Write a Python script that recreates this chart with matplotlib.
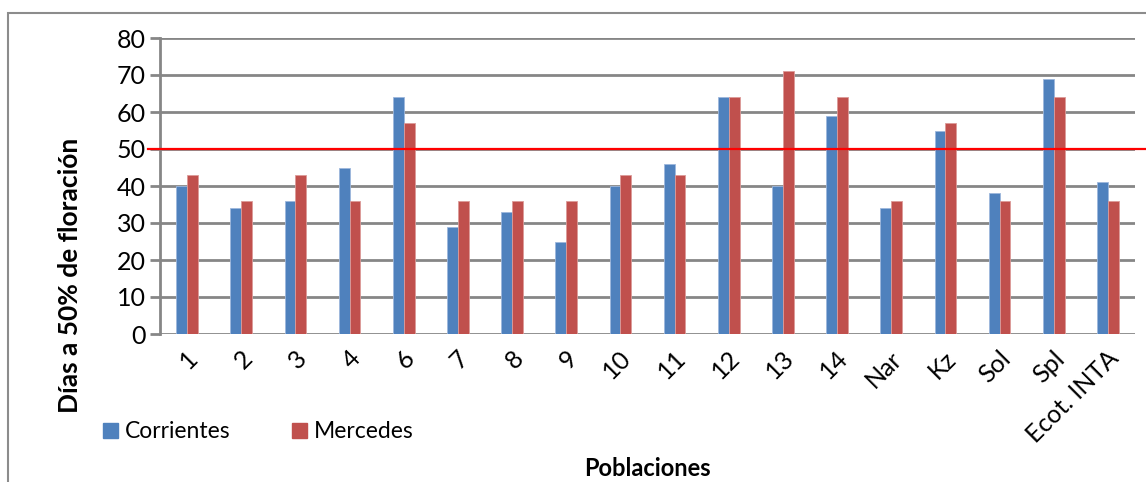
import matplotlib.pyplot as plt
import matplotlib.transforms as mtransforms
import numpy as np
from matplotlib.patches import Rectangle, Patch

# ── Data ────────────────────────────────────────────────────────────────────
poblaciones = ["1", "2", "3", "4", "6", "7", "8", "9", "10", "11", "12", "13",
               "14", "Nar", "Kz", "Sol", "Spl", "Ecot. INTA"]
corrientes = [40, 34, 36, 45, 64, 29, 33, 25, 40, 46, 64, 40, 59, 34, 55, 38, 69, 41]
mercedes   = [43, 36, 43, 36, 57, 36, 36, 36, 43, 43, 64, 71, 64, 36, 57, 36, 64, 36]
umbral     = 50

# ── Style ───────────────────────────────────────────────────────────────────
plt.rcParams["font.family"] = ["Lato", "DejaVu Sans"]
BLUE  = "#4F81BD"
RED   = "#C0504D"
GRID  = "#868686"

W, H = 1146, 482
fig = plt.figure(figsize=(W / 100, H / 100), dpi=100)
ax = fig.add_axes([160 / W, 1 - 334 / H, 975 / W, 296 / H])

# outer chart border
fig.patches.append(Rectangle((8 / W, -0.1), 1.2, 1 - 13 / H + 0.1,
                             transform=fig.transFigure, fill=False,
                             edgecolor="#8c8c8c", lw=1.5))

x = np.arange(len(poblaciones))
bw = 0.2
ax.bar(x - bw / 2, corrientes, bw, color=BLUE, edgecolor="#9db7dc", lw=0.6, zorder=3)
ax.bar(x + bw / 2, mercedes, bw, color=RED, edgecolor="#dc9a98", lw=0.6, zorder=3)

ax.axhline(umbral, xmin=-0.0123, xmax=1.02, color="#ff0000", lw=1.6,
           clip_on=False, zorder=4)

ax.set_xlim(-0.5, len(poblaciones) - 0.5)
ax.set_ylim(0, 80)
ax.set_yticks(range(0, 81, 10))
ax.yaxis.grid(True, color=GRID, lw=2, zorder=0)
ax.set_axisbelow(True)
for s in ["top", "right", "bottom"]:
    ax.spines[s].set_visible(False)
ax.spines["left"].set_color(GRID)
ax.spines["left"].set_linewidth(2)
ax.tick_params(axis="y", length=7, width=2, color=GRID, labelsize=18, pad=3)
ax.tick_params(axis="x", length=0, labelsize=18, pad=9)
ax.set_xticks(x)
ax.set_xticklabels(poblaciones, rotation=45, ha="right", rotation_mode="anchor")
# nudge tick labels so they sit under the bar pair
offset = mtransforms.ScaledTranslation(-1 / 100, 0, fig.dpi_scale_trans)
for lbl in ax.get_xticklabels():
    lbl.set_transform(lbl.get_transform() + offset)

fig.text(70 / W, 1 - 275 / H, "Días a 50% de floración", rotation=90,
         ha="center", va="center", fontsize=19, fontweight="bold")
fig.text(647 / W, 1 - 468 / H, "Poblaciones", ha="center", va="center",
         fontsize=17, fontweight="bold")

handles = [Patch(color=BLUE, label="Corrientes"), Patch(color=RED, label="Mercedes")]
fig.legend(handles=handles, loc="center left", bbox_to_anchor=(82 / W, 1 - 432 / H),
           ncol=2, frameon=False, fontsize=16.5, handlelength=0.65, handleheight=0.65,
           handletextpad=0.3, columnspacing=2.7)

fig.savefig("out.png", dpi=100)
